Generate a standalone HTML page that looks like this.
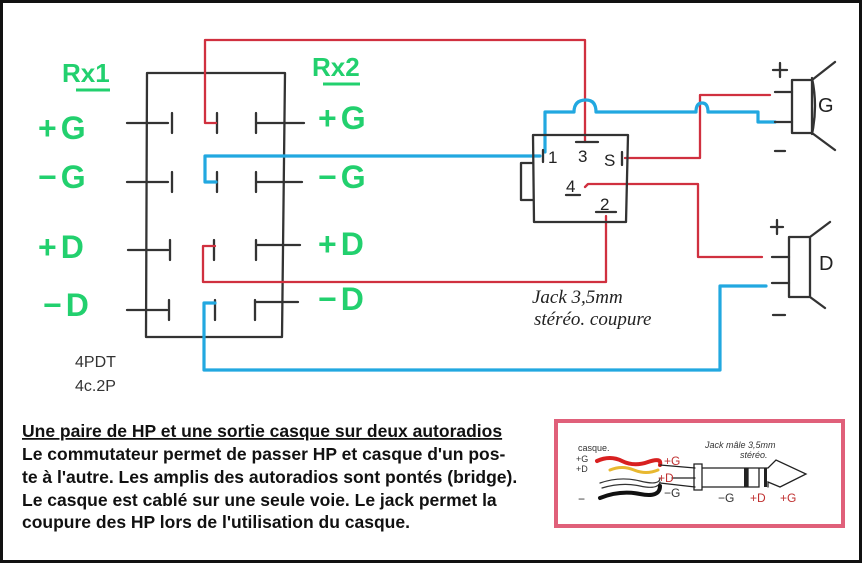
<!DOCTYPE html>
<html><head><meta charset="utf-8"><style>
html,body{margin:0;padding:0;background:#fff}
svg{display:block}
.g{font-family:"Liberation Sans",sans-serif;font-weight:bold;fill:#22d06e}
.h{font-family:"Liberation Serif",serif;font-style:italic;fill:#222}
.t{font-family:"Liberation Sans",sans-serif;font-weight:bold;font-size:17.5px;fill:#111}
</style></head><body>
<svg width="862" height="563" viewBox="0 0 862 563" xmlns="http://www.w3.org/2000/svg">
<rect x="1.5" y="1.5" width="859" height="560" fill="#fff" stroke="#111" stroke-width="3"/>
<g fill="none" stroke-linecap="round" stroke-linejoin="round">
<path d="M147 73 L285 73 L282 337 L146 337 Z" stroke="#333" stroke-width="2.3"/>
<g stroke="#333" stroke-width="2.3">
<path d="M127 123 H168 M172 113 V133 M217 113 V133 M256 113 V133 M256 123 H304"/>
<path d="M127 182 H168 M172 172 V192 M217 172 V192 M256 172 V192 M256 182 H302"/>
<path d="M128 250 H168 M170 240 V260 M214 240 V260 M256 240 V260 M256 245 H300"/>
<path d="M127 310 H167 M169 300 V320 M215 300 V320 M255 300 V320 M255 302 H298"/>
</g>
<g stroke="#d0303f" stroke-width="2.3">
<path d="M216 123 H205 V40 H585 V142"/>
<path d="M215 246 H203 V282 H606 V216"/>
<path d="M625 158 H700 V95 H770"/>
<path d="M585 187 L588 184 H698 V257 H762"/>
</g>
<g stroke="#22a8e0" stroke-width="3.2">
<path d="M216 182 H205 V156 H540"/>
<path d="M215 303 H204 V370 H720 V286 H766"/>
<path d="M545 152 V112 H574 Q574 100 586 100 Q596 100 596 112 H696 Q696 103 702 103 Q708 103 708 112 H758 V122 H775"/>
</g>
<g stroke="#333" stroke-width="2.3">
<path d="M533 135 H628 L626 222 H534 Z"/>
<path d="M533 163 H521 V200 H533"/>
<path d="M543 150 V162 M576 142 H598 M622 152 V165 M566 195 H580 M596 212 H616"/>
<path d="M792 80 H812 V133 H792 Z M812 80 L835 62 M812 133 L835 150 M812 78 Q818 106 812 134"/>
<path d="M775 92 H792 M775 122 H792"/>
<path d="M789 237 H810 V297 H789 Z M810 237 L830 222 M810 297 L825 308"/>
<path d="M772 257 H789 M772 283 H789"/>
<path d="M773 70 H787 M780 63 V77 M775 151 H785 M771 227 H783 M777 220 V234 M773 315 H785"/>
</g>
</g>
<text x="548" y="163" font-family="Liberation Sans" font-size="17" fill="#222">1</text>
<text x="578" y="162" font-family="Liberation Sans" font-size="17" fill="#222">3</text>
<text x="604" y="166" font-family="Liberation Sans" font-size="17" fill="#222">S</text>
<text x="566" y="192" font-family="Liberation Sans" font-size="17" fill="#222">4</text>
<text x="600" y="210" font-family="Liberation Sans" font-size="17" fill="#222">2</text>
<text x="818" y="112" font-family="Liberation Sans" font-size="20" fill="#222">G</text>
<text x="819" y="270" font-family="Liberation Sans" font-size="20" fill="#222">D</text>
<text class="h" x="532" y="303" font-size="19">Jack 3,5mm</text>
<text class="h" x="534" y="325" font-size="19">stéréo. coupure</text>
<text x="75" y="367" font-family="Liberation Sans" font-size="16" fill="#333">4PDT</text>
<text x="75" y="391" font-family="Liberation Sans" font-size="16" fill="#333">4c.2P</text>
<text class="g" x="62" y="82" font-size="26">Rx1</text>
<path d="M76 90 H110" stroke="#22d06e" stroke-width="3"/>
<text class="g" x="312" y="76" font-size="26">Rx2</text>
<path d="M323 84 H360" stroke="#22d06e" stroke-width="3"/>
<g class="g" font-size="32" letter-spacing="4">
<text x="38" y="139">+G</text>
<text x="38" y="188">−G</text>
<text x="38" y="258">+D</text>
<text x="43" y="316">−D</text>
<text x="318" y="129">+G</text>
<text x="318" y="188">−G</text>
<text x="318" y="255">+D</text>
<text x="318" y="310">−D</text>
</g>
<text class="t" x="22" y="437" text-decoration="underline">Une paire de HP et une sortie casque sur deux autoradios</text>
<text class="t" x="22" y="460">Le commutateur permet de passer HP et casque d'un pos-</text>
<text class="t" x="22" y="483">te à l'autre. Les amplis des autoradios sont pontés (bridge).</text>
<text class="t" x="22" y="506">Le casque est cablé sur une seule voie. Le jack permet la</text>
<text class="t" x="22" y="528">coupure des HP lors de l'utilisation du casque.</text>
<rect x="556" y="421" width="287" height="105" fill="#fff" stroke="#e0607a" stroke-width="4"/>
<g fill="none" stroke-linecap="round">
<path d="M597 461 Q610 455 622 461 T648 462 T660 465" stroke="#d82020" stroke-width="4"/>
<path d="M610 470 Q622 465 634 470 T658 470" stroke="#e8b830" stroke-width="3"/>
<path d="M600 483 Q620 476 640 481 T660 478 M602 488 Q622 482 640 486 T660 482" stroke="#333" stroke-width="1.2"/>
<path d="M600 498 Q620 490 640 494 T660 486" stroke="#111" stroke-width="4"/>
<g stroke="#222" stroke-width="1.3">
<path d="M660 465 L695 468 M672 478 H695 M660 483 L695 487"/>
<path d="M694 464 H702 V490 H694 Z M702 468 H748 V487 H702 M748 468 H759 V487 H748 M759 468 H768 L776 460 L806 474 L780 487 L768 482 V487"/>
</g>
<rect x="744" y="468" width="4" height="19" fill="#222"/><rect x="764" y="468" width="3" height="19" fill="#222"/>
</g>
<g font-family="Liberation Sans" font-size="9" fill="#333">
<text x="578" y="451">casque.</text><text x="576" y="462">+G</text><text x="576" y="472">+D</text>
<text x="705" y="448" font-style="italic">Jack mâle 3,5mm</text><text x="740" y="458" font-style="italic">stéréo.</text>
<text x="578" y="503" font-size="12">−</text>
</g>
<g font-family="Liberation Sans" font-size="12" fill="#c03030">
<text x="664" y="465">+G</text><text x="658" y="482">+D</text>
<text x="750" y="502">+D</text><text x="780" y="502">+G</text>
</g>
<g font-family="Liberation Sans" font-size="12" fill="#333">
<text x="664" y="497">−G</text><text x="718" y="502">−G</text>
</g>
</svg>
</body></html>
